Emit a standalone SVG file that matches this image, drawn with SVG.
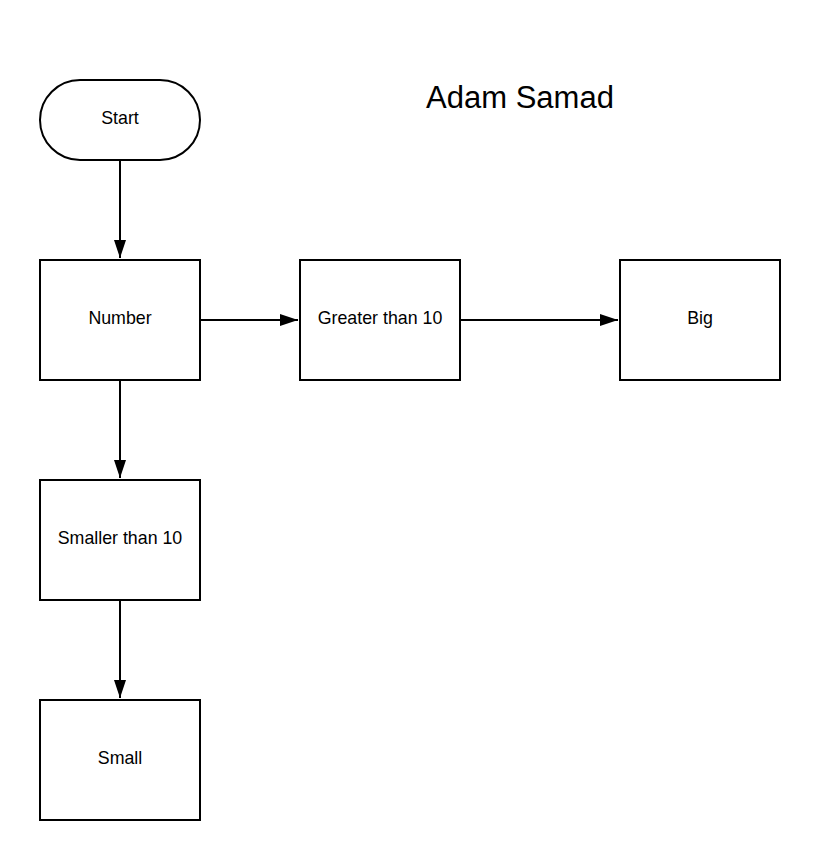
<svg xmlns="http://www.w3.org/2000/svg" width="820" height="860" viewBox="0 0 820 860">
<style>
.shape{fill:#fff;stroke:#000;stroke-width:2}
.lbl{font-family:"Liberation Sans",Arial,sans-serif;font-size:17.8px;fill:#000;text-anchor:middle;dominant-baseline:central}
.title{font-family:"Liberation Sans",Arial,sans-serif;font-size:31px;fill:#000;text-anchor:middle;dominant-baseline:central}
.conn{fill:none;stroke:#000;stroke-width:2}
</style>
<defs>
<marker id="arr" markerWidth="18" markerHeight="12" refX="18" refY="6" orient="auto" markerUnits="userSpaceOnUse" viewBox="0 0 18 12">
<path d="M0,0 L18,6 L0,12 z" fill="#000"/>
</marker>
</defs>
<rect width="820" height="860" fill="#fff"/>
<text class="title" x="520" y="97">Adam Samad</text>
<g id="connectors">
<line class="conn" x1="120" y1="160" x2="120" y2="258" marker-end="url(#arr)"/>
<line class="conn" x1="200" y1="320" x2="298" y2="320" marker-end="url(#arr)"/>
<line class="conn" x1="460" y1="320" x2="618" y2="320" marker-end="url(#arr)"/>
<line class="conn" x1="120" y1="380" x2="120" y2="478" marker-end="url(#arr)"/>
<line class="conn" x1="120" y1="600" x2="120" y2="698" marker-end="url(#arr)"/>
</g>
<g id="start"><rect class="shape" x="40" y="80" width="160" height="80" rx="40" ry="40"/><text class="lbl" x="120" y="118">Start</text></g>
<g id="number"><rect class="shape" x="40" y="260" width="160" height="120"/><text class="lbl" x="120" y="318">Number</text></g>
<g id="greater"><rect class="shape" x="300" y="260" width="160" height="120"/><text class="lbl" x="380" y="318">Greater than 10</text></g>
<g id="big"><rect class="shape" x="620" y="260" width="160" height="120"/><text class="lbl" x="700" y="318">Big</text></g>
<g id="smaller"><rect class="shape" x="40" y="480" width="160" height="120"/><text class="lbl" x="120" y="538">Smaller than 10</text></g>
<g id="small"><rect class="shape" x="40" y="700" width="160" height="120"/><text class="lbl" x="120" y="758">Small</text></g>
</svg>
